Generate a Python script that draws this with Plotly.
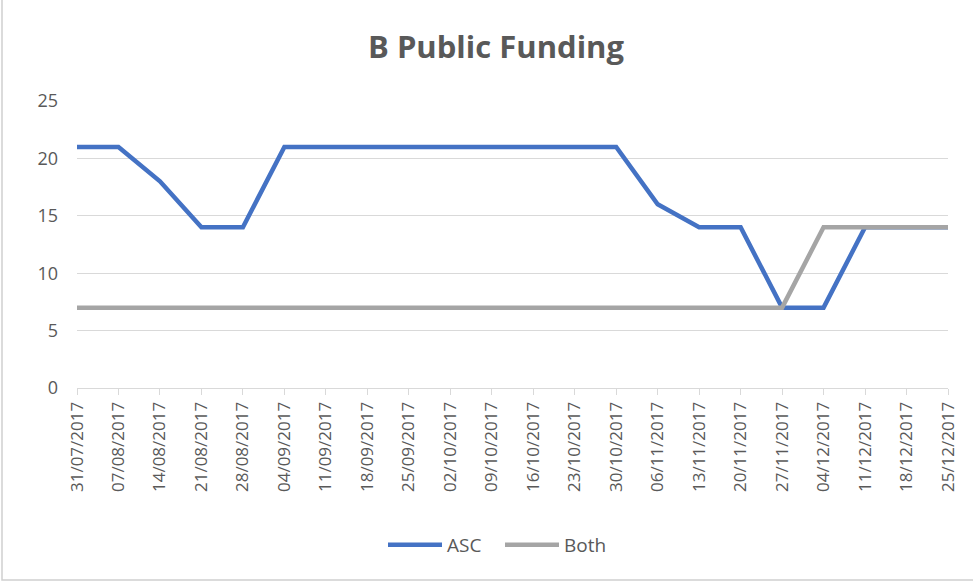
import plotly.graph_objects as go

dates = ["31/07/2017", "07/08/2017", "14/08/2017", "21/08/2017", "28/08/2017",
         "04/09/2017", "11/09/2017", "18/09/2017", "25/09/2017", "02/10/2017",
         "09/10/2017", "16/10/2017", "23/10/2017", "30/10/2017", "06/11/2017",
         "13/11/2017", "20/11/2017", "27/11/2017", "04/12/2017", "11/12/2017",
         "18/12/2017", "25/12/2017"]
asc = [21, 21, 18, 14, 14, 21, 21, 21, 21, 21, 21, 21, 21, 21, 16, 14, 14, 7, 7, 14, 14, 14]
both = [7, 7, 7, 7, 7, 7, 7, 7, 7, 7, 7, 7, 7, 7, 7, 7, 7, 7, 14, 14, 14, 14]

fig = go.Figure()
fig.add_trace(go.Scatter(x=dates, y=asc, mode="lines", name="ASC",
                         line=dict(color="#4472C4", width=4.5)))
fig.add_trace(go.Scatter(x=dates, y=both, mode="lines", name="Both",
                         line=dict(color="#A5A5A5", width=4.5)))

W, H = 973, 584
L, R, T, B = 77, 25, 101, 196
pw, ph = W - L - R, H - T - B

def px_x(x):
    return (x - L) / pw

def px_y(y):
    return (H - B - y) / ph

fig.update_layout(
    width=W, height=H,
    margin=dict(l=L, r=R, t=T, b=B, autoexpand=False),
    paper_bgcolor="white", plot_bgcolor="white",
    font=dict(family="Open Sans, Liberation Sans, sans-serif", color="#595959", size=17),
    title=dict(text="<b>B Public Funding</b>", x=496 / W, xanchor="center",
               y=1 - 47 / H, yanchor="middle",
               font=dict(size=31, color="#595959")),
    showlegend=True,
    legend=dict(orientation="h", x=px_x(383), xanchor="left", y=px_y(545), yanchor="middle",
                itemwidth=54, entrywidth=48, entrywidthmode="pixels",
                font=dict(size=19, color="#595959")),
    xaxis=dict(type="category", range=[0, len(dates) - 1], tickangle=-90,
               showgrid=False, showline=True, linecolor="#d9d9d9", linewidth=1,
               ticks="outside", ticklen=6, tickcolor="#d9d9d9",
               tickfont=dict(size=17, color="#595959"), fixedrange=True),
    yaxis=dict(range=[0, 25], tickvals=[0, 5, 10, 15, 20, 25], showgrid=True,
               gridcolor="#d9d9d9", gridwidth=1, zeroline=False, showline=False,
               ticks="", tickfont=dict(size=18, color="#595959"), ticklabelstandoff=18),
    shapes=[dict(type="rect", xref="paper", yref="paper",
                 x0=px_x(2), x1=px_x(990), y0=px_y(580), y1=px_y(-10),
                 line=dict(color="#d0d0d0", width=1.5), fillcolor="rgba(0,0,0,0)",
                 layer="below")],
)

fig.write_html("out.html", config={"displayModeBar": False},
               post_script="document.body.style.margin='0';")
